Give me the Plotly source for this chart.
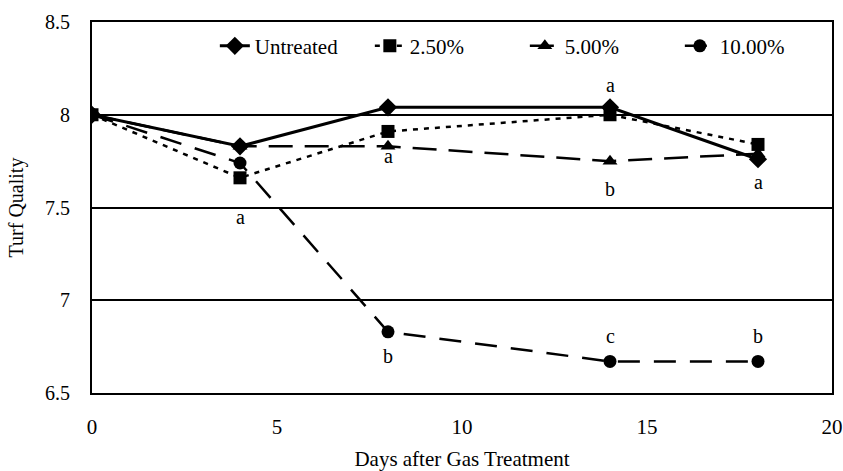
import plotly.graph_objects as go

days = [0, 4, 8, 14, 18]
untreated = [8.0, 7.83, 8.04, 8.04, 7.76]
pct_2_5 = [8.0, 7.66, 7.91, 8.0, 7.84]
pct_5 = [8.0, 7.83, 7.83, 7.75, 7.79]
pct_10 = [8.0, 7.74, 6.83, 6.67, 6.67]

letter_x = [4, 8, 14, 14, 18, 8, 14, 18]
letter_y = [7.45, 7.78, 8.16, 7.6, 7.64, 6.7, 6.81, 6.81]
letter_text = ["a", "a", "a", "b", "a", "b", "c", "b"]

series = [
    ("Untreated", untreated, "solid", "diamond", 14, 3),
    ("2.50%", pct_2_5, "5px,6px", "square", 13, 2.5),
    ("5.00%", pct_5, "24px,12px", "triangle-up", 13, 2.5),
    ("10.00%", pct_10, "22px,14px", "circle", 13, 2.5),
]

FONT = "Liberation Serif, Times New Roman, serif"

fig = go.Figure()
for name, vals, dash, sym, size, w in series:
    fig.add_trace(go.Scatter(
        x=days, y=vals, name=name, mode="lines+markers",
        line=dict(color="black", width=w, dash=dash),
        marker=dict(symbol=sym, size=size, color="black"),
    ))

for x, y, t in zip(letter_x, letter_y, letter_text):
    fig.add_annotation(x=x, y=y, text=t, showarrow=False,
                       font=dict(family=FONT, size=20, color="black"))

fig.update_layout(
    width=843, height=471,
    margin=dict(l=92, r=11, t=22, b=78, autoexpand=False),
    paper_bgcolor="white", plot_bgcolor="white",
    font=dict(family=FONT, size=20, color="black"),
    showlegend=True,
    legend=dict(orientation="h", x=0.166, xanchor="left", y=0.99, yanchor="top",
                bgcolor="rgba(0,0,0,0)", font=dict(family=FONT, size=21),
                entrywidth=110, entrywidthmode="pixels", tracegroupgap=0),
    xaxis=dict(range=[0, 20], tickvals=[0, 5, 10, 15, 20], showgrid=False,
               zeroline=False, showline=True, linecolor="black", linewidth=2,
               mirror=True, ticks="", ticklabelstandoff=14, automargin=False,
               tickfont=dict(family=FONT, size=21),
               title=dict(text="Days after Gas Treatment", standoff=14,
                          font=dict(family=FONT, size=21))),
    yaxis=dict(range=[6.5, 8.5], tickvals=[6.5, 7, 7.5, 8, 8.5],
               ticktext=["6.5", "7", "7.5", "8", "8.5"],
               showgrid=True, gridcolor="black", gridwidth=1.5,
               zeroline=False, showline=True, linecolor="black", linewidth=2,
               mirror=True, ticks="", ticklabelstandoff=16, automargin=False,
               tickfont=dict(family=FONT, size=20),
               title=dict(text="Turf Quality", standoff=16,
                          font=dict(family=FONT, size=20))),
)

fig.write_html("out.html")
